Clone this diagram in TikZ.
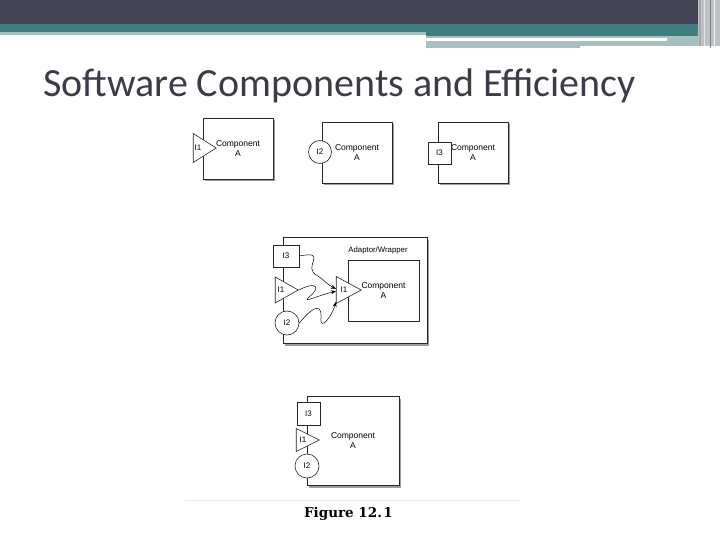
\documentclass[tikz,border=0pt]{standalone}
\usepackage{fontspec}
\newfontfamily\titlefont{Carlito}
\newfontfamily\boxfont{Liberation Sans}
\newfontfamily\capfont{DejaVu Serif}
\usetikzlibrary{shapes.geometric,shadows,arrows.meta}

\definecolor{headdark}{RGB}{67,68,86}
\definecolor{headteal}{RGB}{64,124,128}
\definecolor{headlight}{RGB}{166,191,193}
\definecolor{edgegray}{RGB}{190,194,200}
\definecolor{titlegray}{RGB}{60,60,72}

\begin{document}
\begin{tikzpicture}[x=1pt, y=-1pt,
  box/.style={draw=black!85, fill=white, line width=0.6pt, inner sep=0pt,
    minimum width=70pt, minimum height=61pt, align=center,
    font=\boxfont\fontsize{8.5}{10}\selectfont},
  comp/.style={box,
    drop shadow={shadow xshift=2pt, shadow yshift=-2.5pt, fill=black!70, opacity=0.55}},
  tri/.style={draw=black!85, fill=white, line width=0.6pt, isosceles triangle,
    isosceles triangle stretches, inner sep=0pt, anchor=apex,
    minimum width=27pt, minimum height=23pt},
  ring/.style={draw=black!85, fill=white, line width=0.6pt, circle,
    inner sep=0pt, minimum size=23pt},
  plug/.style={draw=black!85, fill=white, line width=0.6pt, rectangle,
    inner sep=0pt, minimum width=24pt, minimum height=22pt},
  lbl/.style={font=\boxfont\fontsize{8}{9}\selectfont, inner sep=0pt},
  conn/.style={-{Stealth[length=5pt,width=4pt]}, line width=0.5pt}]
\useasboundingbox (0,0) rectangle (720,540);
\fill[white] (0,0) rectangle (720,540);

% header bands
\fill[headdark] (0,0) rectangle (720,24);
\fill[headteal] (0,24) rectangle (720,32);
\fill[headteal] (426,32) rectangle (720,36);
\fill[headlight] (0,32) rectangle (426,35);
\fill[headlight] (426,36) rectangle (698,46);
\fill[white] (426,38) rectangle (667,41);
\fill[headlight] (426,46) rectangle (580,48);
\fill[edgegray] (698,0) rectangle (720,46);
\draw[gray!70, line width=1.2pt] (700,0) -- (700,46);
\draw[white!80!gray, line width=1pt] (704,0) -- (704,46);
\draw[gray, line width=1pt] (710,0) -- (710,48);
\draw[white!90!gray, line width=1pt] (714,0) -- (714,46);

\node[anchor=base west, inner sep=0pt, text=titlegray,
  font=\titlefont\fontsize{40}{44}\selectfont] (title) at (43,97)
  {Software Components and Efficiency};

% three single-interface components
\node[comp] (ca) at (238,148.5) {Component\\A};
\node[tri, minimum width=29pt] (ta) at (217,148) {};
\node[lbl] at ([xshift=-19pt]ta.apex) {I1};

\node[comp] (cb) at (357,152.5) {Component\\A};
\node[ring] (rb) at (320,152) {};
\node[lbl] at (rb.center) {I2};

\node[comp] (cc) at (473,152.5) {Component\\A};
\node[plug, minimum width=23pt] (pc) at (439.5,153) {};
\node[lbl] at (pc.center) {I3};

% adaptor / wrapper
\node[comp, minimum width=144pt, minimum height=106pt] (wrap) at (355,290) {};
\node[lbl, font=\boxfont\fontsize{7.8}{9}\selectfont] at (378,250) {Adaptor/Wrapper};
\node[box, minimum width=71pt] (inner) at (383.5,290.5) {Component\\A};
\node[tri, minimum height=25pt] (ti) at (362,290) {};
\node[lbl] at ([xshift=-18pt]ti.apex) {I1};

\node[plug, minimum width=26pt] (w3) at (286,256) {};
\node[lbl] at (w3.center) {I3};
\node[tri, minimum width=26pt] (w1) at (299,290) {};
\node[lbl] at ([xshift=-18pt]w1.apex) {I1};
\node[ring, minimum size=24pt] (w2) at (287,323) {};
\node[lbl] at (w2.center) {I2};

\draw[conn] (w3.east) .. controls (330,250) and (300,268) .. (318,276)
  .. controls (324,280) and (328,285) .. (ti.172);
\draw[conn] (w1.apex) .. controls (318,280) and (320,289) .. (309,297)
  .. controls (300,304) and (320,295) .. (ti.188);
\draw[conn] (w2.east) .. controls (310,310) and (322,300) .. (321,318)
  .. controls (320,332) and (332,316) .. (ti.235);

% all three interfaces on one component
\node[comp, minimum width=92pt, minimum height=89pt] (cd) at (353,440.5) {Component\\A};
\node[plug, minimum width=23pt, minimum height=23pt] (d3) at (308.5,413.5) {};
\node[lbl] at (d3.center) {I3};
\node[tri, minimum width=23pt] (d1) at (320,440) {};
\node[lbl] at ([xshift=-17pt]d1.apex) {I1};
\node[ring, minimum size=24pt] (d2) at (307,466) {};
\node[lbl] at (d2.center) {I2};

\draw[black!8] (185,500) -- (520,500);
\node[anchor=base, inner sep=0pt, font=\capfont\bfseries\fontsize{13.5}{15}\selectfont] (cap) at (348.5,517) {Figure 12.\kern1.5pt1};
\end{tikzpicture}
\end{document}
